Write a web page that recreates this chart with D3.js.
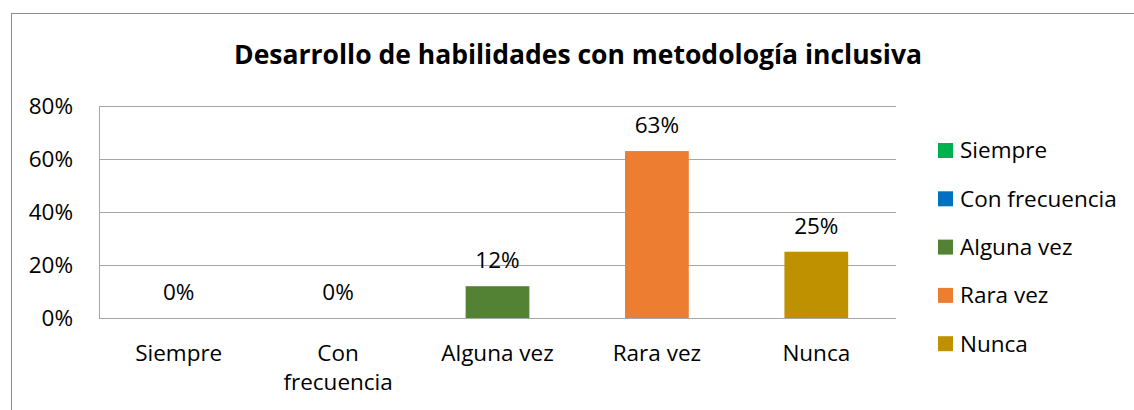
<!DOCTYPE html>
<html>
<head>
<meta charset="utf-8">
<script src="https://cdn.jsdelivr.net/npm/d3@7"></script>
<style>
  body { margin: 0; background: #fff; }
  svg { display: block; font-family: "Open Sans", "Noto Sans", sans-serif; }
</style>
</head>
<body>
<div id="chart"></div>
<script>
const categories = ["Siempre", "Con frecuencia", "Alguna vez", "Rara vez", "Nunca"];
const values = [0, 0, 0.12, 0.63, 0.25];
const colors = ["#00B050", "#0070C0", "#548235", "#ED7D31", "#BF9000"];
const yTicks = [0, 0.2, 0.4, 0.6, 0.8];

const W = 1134, H = 410;
const margin = {top: 106, right: 238, bottom: 92, left: 99};
const width = W - margin.left - margin.right,
  height = H - margin.top - margin.bottom;
const fs = 22.5;

const svg = d3.select("#chart").append("svg")
  .attr("width", W).attr("height", H);

// chart frame
svg.append("rect")
  .attr("x", 11.5).attr("y", 13.5)
  .attr("width", 1140).attr("height", 420)
  .attr("fill", "none").attr("stroke", "#8c8c8c").attr("stroke-width", 1);

svg.append("text")
  .attr("x", 578).attr("y", 64)
  .attr("text-anchor", "middle")
  .attr("font-size", 26.5).attr("font-weight", "bold")
  .text("Desarrollo de habilidades con metodología inclusiva");

const g = svg.append("g")
  .attr("transform", "translate(" + margin.left + "," + margin.top + ")");

const x = d3.scaleBand()
  .domain(categories)
  .range([0, width])
  .paddingInner(0.6)
  .paddingOuter(0.3);

const y = d3.scaleLinear()
  .domain([0, 0.8])
  .range([height, 0]);

// gridlines
g.append("g")
  .call(d3.axisLeft(y).tickValues(yTicks).tickSize(-width).tickFormat(""))
  .call(s => s.select(".domain").remove())
  .selectAll("line").attr("stroke", "#a6a6a6");

// left axis line
g.append("line")
  .attr("x1", 0.5).attr("x2", 0.5).attr("y1", 0).attr("y2", height)
  .attr("stroke", "#a6a6a6");

// y tick labels
g.append("g")
  .call(d3.axisLeft(y).tickValues(yTicks).tickSize(0).tickPadding(26).tickFormat(d3.format(".0%")))
  .call(s => s.select(".domain").remove())
  .selectAll("text")
    .attr("font-size", fs).attr("fill", "#000")
    .attr("font-family", "Open Sans, Noto Sans, sans-serif");

g.selectAll("rect.bar")
  .data(categories)
  .enter()
  .append("rect")
    .attr("class", "bar")
    .attr("x", d => x(d))
    .attr("y", (d, i) => y(values[i]))
    .attr("width", x.bandwidth())
    .attr("height", (d, i) => height - y(values[i]))
    .attr("fill", (d, i) => colors[i]);

g.selectAll("text.val")
  .data(categories)
  .enter()
  .append("text")
    .attr("class", "val")
    .attr("x", d => x(d) + x.bandwidth() / 2)
    .attr("y", (d, i) => y(values[i]) - 18)
    .attr("text-anchor", "middle")
    .attr("font-size", fs)
    .text((d, i) => d3.format(".0%")(values[i]));

// x labels (wrap "Con frecuencia")
const xl = g.selectAll("text.xl")
  .data(categories)
  .enter()
  .append("text")
    .attr("class", "xl")
    .attr("x", d => x(d) + x.bandwidth() / 2)
    .attr("y", height + 43)
    .attr("text-anchor", "middle")
    .attr("font-size", fs);
xl.each(function(d) {
  const lines = d === "Con frecuencia" ? ["Con", "frecuencia"] : [d];
  d3.select(this).selectAll("tspan").data(lines).enter().append("tspan")
    .attr("x", x(d) + x.bandwidth() / 2)
    .attr("dy", (l, i) => i === 0 ? 0 : 29)
    .text(l => l);
});

// legend
const legend = svg.append("g").attr("transform", "translate(938,143)");
const li = legend.selectAll("g")
  .data(categories)
  .enter()
  .append("g")
    .attr("transform", (d, i) => "translate(0," + i * 48.3 + ")");
li.append("rect")
  .attr("width", 15).attr("height", 15)
  .attr("fill", (d, i) => colors[i]);
li.append("text")
  .attr("x", 22).attr("y", 7.5)
  .attr("dy", "0.35em")
  .attr("font-size", fs)
  .text(d => d);
</script>
</body>
</html>
